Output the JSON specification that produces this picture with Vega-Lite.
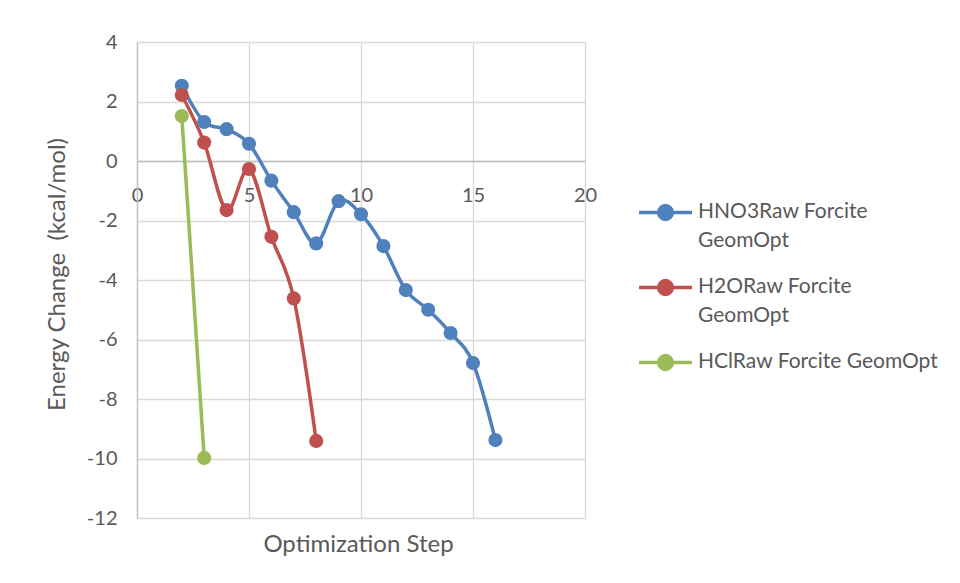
{
  "$schema": "https://vega.github.io/schema/vega-lite/v6.json",
  "width": 448,
  "height": 476,
  "autosize": "none",
  "padding": {"left": 137, "top": 42, "right": 375, "bottom": 65},
  "background": "white",
  "config": {"view": {"stroke": null}, "font": "Lato"},
  "data": {
    "values": [
      {"step": 2, "energy": 2.53, "series": "HNO3Raw Forcite GeomOpt"},
      {"step": 3, "energy": 1.31, "series": "HNO3Raw Forcite GeomOpt"},
      {"step": 4, "energy": 1.07, "series": "HNO3Raw Forcite GeomOpt"},
      {"step": 5, "energy": 0.58, "series": "HNO3Raw Forcite GeomOpt"},
      {"step": 6, "energy": -0.66, "series": "HNO3Raw Forcite GeomOpt"},
      {"step": 7, "energy": -1.72, "series": "HNO3Raw Forcite GeomOpt"},
      {"step": 8, "energy": -2.77, "series": "HNO3Raw Forcite GeomOpt"},
      {"step": 9, "energy": -1.35, "series": "HNO3Raw Forcite GeomOpt"},
      {"step": 10, "energy": -1.79, "series": "HNO3Raw Forcite GeomOpt"},
      {"step": 11, "energy": -2.86, "series": "HNO3Raw Forcite GeomOpt"},
      {"step": 12, "energy": -4.34, "series": "HNO3Raw Forcite GeomOpt"},
      {"step": 13, "energy": -5.0, "series": "HNO3Raw Forcite GeomOpt"},
      {"step": 14, "energy": -5.78, "series": "HNO3Raw Forcite GeomOpt"},
      {"step": 15, "energy": -6.79, "series": "HNO3Raw Forcite GeomOpt"},
      {"step": 16, "energy": -9.38, "series": "HNO3Raw Forcite GeomOpt"},
      {"step": 2, "energy": 2.22, "series": "H2ORaw Forcite GeomOpt"},
      {"step": 3, "energy": 0.62, "series": "H2ORaw Forcite GeomOpt"},
      {"step": 4, "energy": -1.65, "series": "H2ORaw Forcite GeomOpt"},
      {"step": 5, "energy": -0.27, "series": "H2ORaw Forcite GeomOpt"},
      {"step": 6, "energy": -2.55, "series": "H2ORaw Forcite GeomOpt"},
      {"step": 7, "energy": -4.62, "series": "H2ORaw Forcite GeomOpt"},
      {"step": 8, "energy": -9.41, "series": "H2ORaw Forcite GeomOpt"},
      {"step": 2, "energy": 1.51, "series": "HClRaw Forcite GeomOpt"},
      {"step": 3, "energy": -9.98, "series": "HClRaw Forcite GeomOpt"}
    ]
  },
  "encoding": {
    "x": {
      "field": "step",
      "type": "quantitative",
      "scale": {"domain": [0, 20], "nice": false, "zero": false},
      "axis": {
        "values": [0, 5, 10, 15, 20],
        "offset": -357,
        "grid": true,
        "gridColor": "#d9d9d9",
        "gridWidth": 1.3,
        "domainColor": "#bfbfbf",
        "domainWidth": 1.3,
        "ticks": false,
        "labelFlush": false,
        "labelPadding": 24,
        "labelFont": "Lato",
        "labelFontSize": 20,
        "labelColor": "#595959",
        "title": "Optimization Step",
        "titleX": 221,
        "titleY": 383,
        "titleBaseline": "middle",
        "titleFont": "Lato",
        "titleFontSize": 24,
        "titleFontWeight": "normal",
        "titleColor": "#595959"
      }
    },
    "y": {
      "field": "energy",
      "type": "quantitative",
      "scale": {"domain": [-12, 4], "nice": false, "zero": false},
      "axis": {
        "values": [-12, -10, -8, -6, -4, -2, 0, 2, 4],
        "labelExpr": "replace(datum.label, '\u2212', '-')",
        "grid": true,
        "gridColor": "#d9d9d9",
        "gridWidth": 1.3,
        "domainColor": "#bfbfbf",
        "domainWidth": 1.3,
        "ticks": false,
        "labelFlush": false,
        "labelPadding": 20,
        "labelFont": "Lato",
        "labelFontSize": 20,
        "labelColor": "#595959",
        "title": "Energy Change\u00a0 (kcal/mol)",
        "titleX": -80,
        "titleY": 232,
        "titleBaseline": "middle",
        "titleFont": "Lato",
        "titleFontSize": 24,
        "titleFontWeight": "normal",
        "titleColor": "#595959"
      }
    },
    "color": {
      "field": "series",
      "type": "nominal",
      "scale": {
        "domain": ["HNO3Raw Forcite GeomOpt", "H2ORaw Forcite GeomOpt", "HClRaw Forcite GeomOpt"],
        "range": ["#4F81BD", "#C0504D", "#9BBB59"]
      },
      "legend": {
        "title": null,
        "orient": "none",
        "legendX": 500,
        "legendY": 142,
        "symbolType": "M-1,0H1M0.26,0A0.26,0.26,0,1,1,-0.26,0A0.26,0.26,0,1,1,0.26,0",
        "symbolSize": 2800,
        "symbolStrokeWidth": 3.5,
        "labelOffset": 4,
        "labelFont": "Lato",
        "labelFontSize": 21,
        "labelColor": "#595959",
        "labelLimit": 400,
        "labelBaseline": "top",
        "rowPadding": 8,
        "labelExpr": "indexof(datum.label, 'HCl') == 0 ? datum.label : [replace(datum.label, ' GeomOpt', ''), 'GeomOpt']",
        "encode": {
          "symbols": {"update": {"fill": {"scale": "color", "field": "value"}, "fillOpacity": {"value": 1}}},
          "labels": {"update": {"lineHeight": {"value": 29}, "dy": {"value": -12}}}
        }
      }
    }
  },
  "layer": [
    {"mark": {"type": "line", "interpolate": "cardinal", "strokeWidth": 3.5}},
    {"mark": {"type": "point", "filled": true, "size": 200, "opacity": 1}}
  ]
}
